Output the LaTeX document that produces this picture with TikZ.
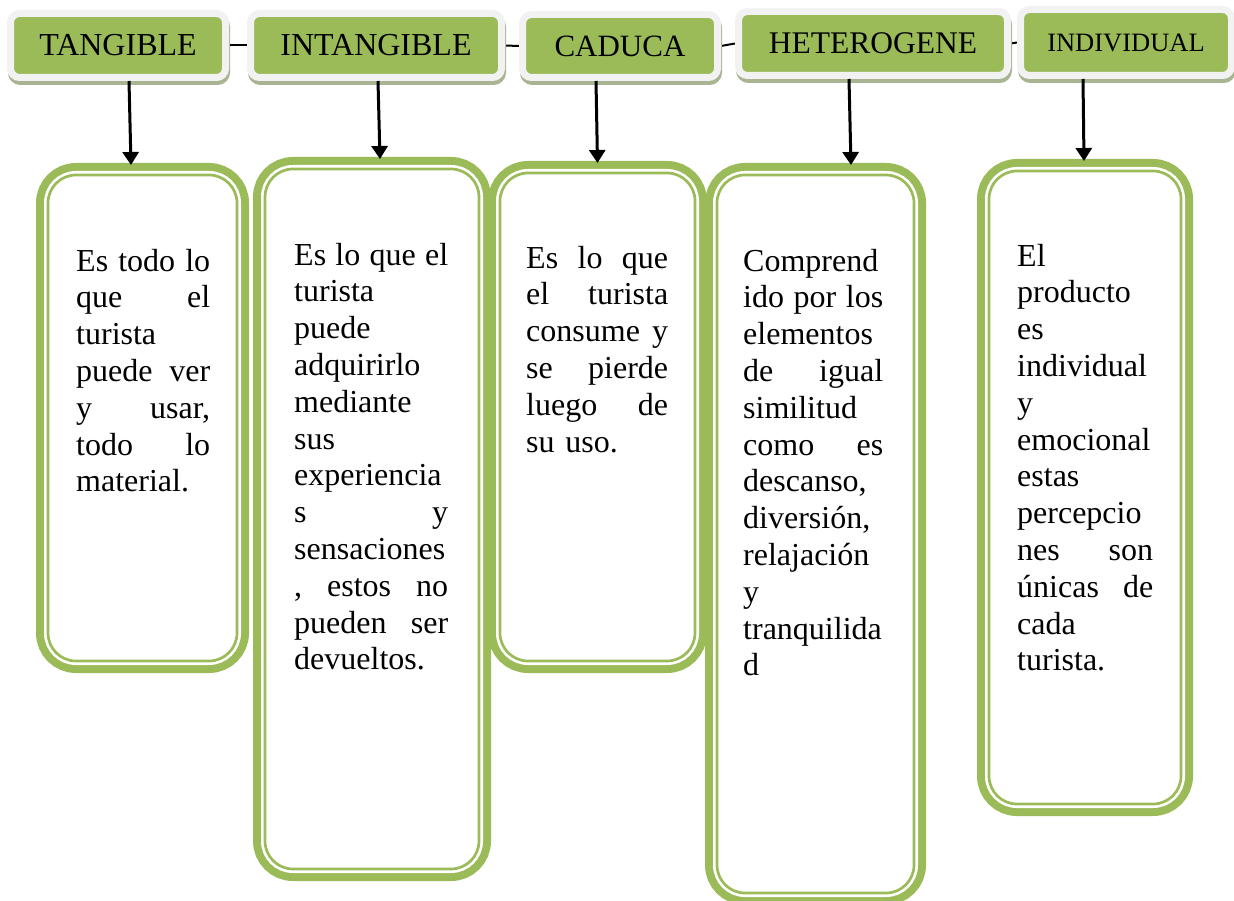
\documentclass[tikz,border=0pt]{standalone}
\usepackage{fontspec}
\setmainfont{Liberation Serif}
\usetikzlibrary{arrows.meta,backgrounds}
\definecolor{boxgreen}{RGB}{155,187,89}
\definecolor{hdrgray}{RGB}{242,242,242}
\definecolor{hdrshadow}{RGB}{168,180,146}
\newcommand\txtsize{\fontsize{32}{36.8}\selectfont\hyphenpenalty=10000\parindent=0pt}
\tikzset{
  hdr/.style={fill=boxgreen, draw=hdrgray, line width=7pt, rounded corners=9pt, inner sep=0pt,
    preaction={fill=hdrshadow, draw=hdrshadow, line width=7pt, transform canvas={xshift=1pt,yshift=-4pt}}},
  desc/.style={rounded corners=28pt, draw=boxgreen, fill=white, line width=2.7pt, inner sep=0pt, outer sep=12pt,
    preaction={draw=boxgreen, line width=24pt},
    preaction={draw=white, fill=white, line width=8pt}},
  txt/.style={anchor=north west, inner sep=0pt, align=left, font=\txtsize}
}
\begin{document}
\begin{tikzpicture}[x=1pt, y=-1pt, >={Triangle[length=13pt,width=16pt]}]
      \useasboundingbox (0,0) rectangle (1234,901);
      % headers
      \node[hdr, minimum width=215pt, minimum height=64pt, font=\fontsize{32}{36}\selectfont] (hT) at (118,45.5) {TANGIBLE};
      \node[hdr, minimum width=251pt, minimum height=64pt, font=\fontsize{32}{36}\selectfont] (hI) at (376,45.5) {INTANGIBLE};
      \node[hdr, minimum width=195pt, minimum height=63pt, font=\fontsize{31}{36}\selectfont] (hC) at (620,46) {CADUCA};
      \node[hdr, minimum width=269pt, minimum height=64pt, font=\fontsize{31.5}{36}\selectfont] (hH) at (873,43.5) {HETEROGENE};
      \node[hdr, minimum width=211pt, minimum height=66pt, font=\fontsize{26.5}{30}\selectfont] (hN) at (1126,42.5) {INDIVIDUAL};
      \begin{scope}[on background layer]
        \draw[line width=2pt] (hT.east) -- (hI.west);
        \draw[line width=2pt] (hI.east) -- (hC.west);
        \draw[line width=2pt] (hC.east) -- (hH.west);
        \draw[line width=2pt] (hH.east) -- (hN.west);
      \end{scope}
      % boxes
      \node[desc, minimum width=189pt, minimum height=486pt] (bT) at (142.5,418) {};
      \node[desc, minimum width=214pt, minimum height=700pt] (bI) at (372,519) {};
      \node[desc, minimum width=195pt, minimum height=488pt] (bC) at (597.5,417) {};
      \node[desc, minimum width=197pt, minimum height=718pt] (bH) at (815.5,534) {};
      \node[desc, minimum width=192pt, minimum height=633pt] (bN) at (1085,487.5) {};
      \draw[->, line width=3pt] ([xshift=11pt]hT.south) -- ([xshift=-11.5pt,yshift=-2pt]bT.north);
      \draw[->, line width=3pt] ([xshift=2pt]hI.south) -- ([xshift=8pt,yshift=-2pt]bI.north);
      \draw[->, line width=3pt] ([xshift=-24pt]hC.south) -- ([xshift=0pt,yshift=-2pt]bC.north);
      \draw[->, line width=3pt] ([xshift=-24pt]hH.south) -- ([xshift=35.5pt,yshift=-2pt]bH.north);
      \draw[->, line width=3pt] ([xshift=-43pt]hN.south) -- ([xshift=-1pt,yshift=-2pt]bN.north);
      % texts
      \node[txt, text width=134pt] (tT) at (76,245.2) {\strut Es\hfill todo\hfill lo\\ que\hfill el\\ turista\\ puede\hfill ver\\ y\hfill usar,\\ todo\hfill lo\\ material.};
      \node[txt, text width=154pt] (tI) at (294,239.2) {\strut Es\hfill lo\hfill que\hfill el\\ turista\\ puede\\ adquirirlo\\ mediante\\ sus\\ experiencia\\ s\hfill y\\ sensaciones\\ ,\hfill estos\hfill no\\ pueden\hfill ser\\ devueltos.};
      \node[txt, text width=142pt] (tC) at (526,242.2) {\strut Es\hfill lo\hfill que\\ el\hfill turista\\ consume\hfill y\\ se\hfill pierde\\ luego\hfill de\\ su uso.};
      \node[txt, text width=140pt] (tH) at (743,245.2) {\strut Comprend\\ ido\hfill por\hfill los\\ elementos\\ de\hfill igual\\ similitud\\ como\hfill es\\ descanso,\\ diversión,\\ relajación\\ y\\ tranquilida\\ d};
      \node[txt, text width=136pt] (tN) at (1017,240.2) {\strut El\\ producto\\ es\\ individual\\ y\\ emocional\\ estas\\ percepcio\\ nes\hfill son\\ únicas\hfill de\\ cada\\ turista.};
\end{tikzpicture}
\end{document}
